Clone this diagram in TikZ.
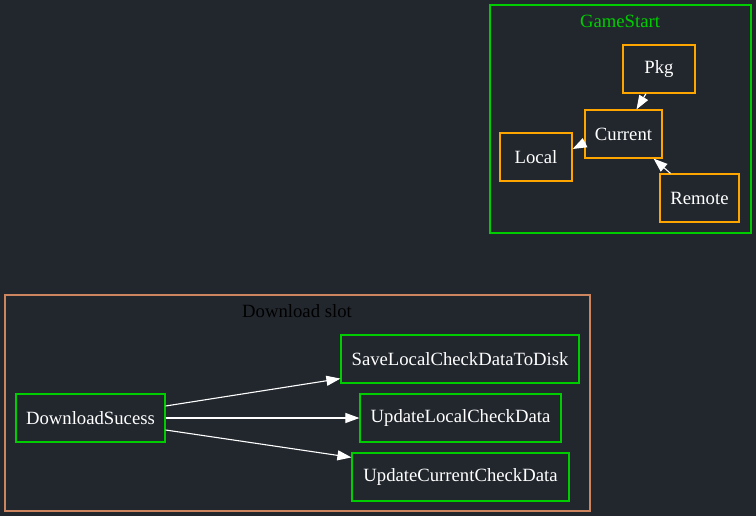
\documentclass[tikz,border=0pt]{standalone}
\usepackage{fontspec}
\setmainfont{Liberation Serif}
\usetikzlibrary{arrows.meta, positioning}

\definecolor{bgdark}{HTML}{22272E}
\definecolor{clgreen}{HTML}{00CD00}
\definecolor{pkgorange}{HTML}{FFA500}
\definecolor{slotborder}{RGB}{205,133,95}

\begin{document}
\begin{tikzpicture}[
  x=1pt, y=-1pt,
  every node/.style={font=\fontsize{18.7}{22}\selectfont},
  cluster/.style={
    line width=1.3pt,
  },
  state/.style={
    rectangle,
    draw=pkgorange,
    line width=1.2pt,
    text=white,
    minimum height=48pt,
    inner sep=0pt,
  },
  action/.style={
    rectangle,
    draw=clgreen,
    line width=1.2pt,
    text=white,
    minimum height=48pt,
    inner sep=0pt,
  },
  edge/.style={-{Triangle[length=14pt, width=10pt]}, white, line width=1.1pt}
]

% ===== BACKGROUND =====
\fill[bgdark] (0,0) rectangle (756,516);
\useasboundingbox (0,0) rectangle (756,516);

% ===== GAMESTART CLUSTER =====
\draw[cluster, clgreen] (490,5) rectangle (751,233);
\node[text=clgreen] (gs) at (620,21) {GameStart};

\node[state, minimum width=72pt] (pkg) at (659,69) {Pkg};
\node[state, minimum width=77pt] (current) at (623.5,134) {Current};
\node[state, minimum width=72pt] (local) at (536,157) {Local};
\node[state, minimum width=79pt] (remote) at (699.5,198) {Remote};

\draw[edge] ([xshift=-13pt]pkg.south) -- ([xshift=13pt]current.north);
\draw[edge] ([yshift=-9pt]current.west) -- ([yshift=8pt]local.east);
\draw[edge] ([xshift=-29pt]remote.north) -- ([xshift=-9pt]current.south east);

% ===== DOWNLOAD SLOT CLUSTER =====
\draw[cluster, slotborder] (5,295) rectangle (590,511);
\node[text=black] (slot) at (297,311) {Download slot};

\node[action, minimum width=149pt] (ds) at (90.5,418) {DownloadSucess};
\node[action, minimum width=238pt] (save) at (460,359) {SaveLocalCheckDataToDisk};
\node[action, minimum width=201pt] (uplocal) at (460.5,418) {UpdateLocalCheckData};
\node[action, minimum width=217pt] (upcur) at (460.5,477) {UpdateCurrentCheckData};

\draw[edge] ([yshift=12pt]ds.east) -- ([yshift=5pt]save.south west);
\draw[edge] (ds.east) -- (uplocal.west);
\draw[edge] ([yshift=-12pt]ds.east) -- ([yshift=-5pt]upcur.north west);

\end{tikzpicture}
\end{document}
